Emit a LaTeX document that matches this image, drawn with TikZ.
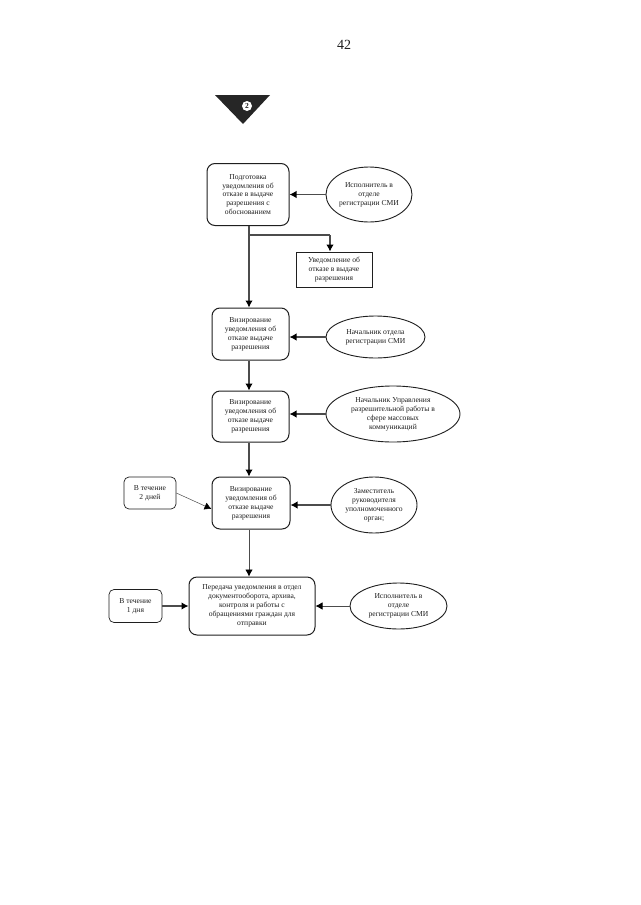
\documentclass[tikz,border=0pt]{standalone}
\usepackage{fontspec}
\setmainfont{Liberation Serif}
\usetikzlibrary{arrows.meta,shapes.geometric}
\definecolor{ink}{gray}{0.12}
\definecolor{wire}{gray}{0.3}
\tikzset{
  label font/.style={font=\fontsize{7.6}{8.9}\selectfont,text=ink,align=center,inner sep=0pt},
  flowbox/.style={label font,draw=ink,line width=1pt,rounded corners=8pt},
  smallbox/.style={label font,draw=ink,line width=0.7pt,rounded corners=5pt},
  docbox/.style={label font,draw=ink,line width=0.9pt},
  actor/.style={label font,ellipse,draw=ink,line width=0.9pt},
  wirelink/.style={draw=wire,line width=1.2pt,-{Latex[length=7pt,width=7.5pt,color=black]}},
  plainlink/.style={draw=wire,line width=1.2pt},
  thinlink/.style={draw=wire,line width=0.5pt,-{Latex[length=7pt,width=7.5pt,color=black]}},
  sizedbox/.style n args={2}{minimum width=#1pt,minimum height=#2pt}
}
\begin{document}
\begin{tikzpicture}[x=1pt,y=-1pt]
\useasboundingbox (0,0) rectangle (640,905);
\fill[white] (0,0) rectangle (640,905);

\node[font=\fontsize{14}{16}\selectfont,text=ink,inner sep=0pt] (pagenum) at (344,45) {42};

\fill[black!85] (215,95) -- (270,95) -- (243,124) -- cycle;
\node[circle,fill=white,inner sep=0pt,minimum size=10pt,font=\fontsize{7.5}{8}\selectfont\bfseries,text=ink] (connector) at (247,106) {2};

\node[flowbox,sizedbox={82}{62}] (box1) at (248,194.5) {Подготовка\\уведомления об\\отказе в выдаче\\разрешения с\\обоснованием};
\node[actor,minimum width=86pt,minimum height=55pt] (ell1) at (369,194.5) {Исполнитель в\\отделе\\регистрации СМИ};
\node[docbox,sizedbox={76}{35}] (doc) at (334,269.5) {Уведомление об\\отказе в выдаче\\разрешения};

\node[flowbox,sizedbox={77}{52}] (box2) at (250.5,334) {Визирование\\уведомления об\\отказе выдаче\\разрешения};
\node[actor,minimum width=99pt,minimum height=42pt] (ell2) at (375.5,337) {Начальник отдела\\регистрации СМИ};

\node[flowbox,sizedbox={77}{51}] (box3) at (250.5,416.5) {Визирование\\уведомления об\\отказе выдаче\\разрешения};
\node[actor,minimum width=134pt,minimum height=56pt] (ell3) at (393,414) {Начальник Управления\\разрешительной работы в\\сфере массовых\\коммуникаций};

\node[flowbox,sizedbox={78}{52}] (box4) at (251,503) {Визирование\\уведомления об\\отказе выдаче\\разрешения};
\node[actor,minimum width=86pt,minimum height=56pt] (ell4) at (374,505) {Заместитель\\руководителя\\уполномоченного\\орган;};
\node[smallbox,sizedbox={52}{32}] (term1) at (150,493) {В течение\\2 дней};

\node[flowbox,sizedbox={126}{58},align=center] (box5) at (252,606) {Передача уведомления в отдел\\документооборота, архива,\\контроля и работы с\\обращениями граждан для\\отправки};
\node[actor,minimum width=97pt,minimum height=46pt] (ell5) at (398.5,606) {Исполнитель в\\отделе\\регистрации СМИ};
\node[smallbox,sizedbox={53}{33}] (term2) at (135.5,606) {В течение\\1 дня};

\coordinate (spine) at (249,235);
\coordinate (branch) at (330,235);

\draw[wirelink] (ell1.west) -- (box1.east);
\draw[plainlink] (box1.south -| spine) -- (spine) -- (branch);
\draw[wirelink] (branch) -- (doc.north -| branch);
\draw[wirelink] (box1.south -| spine) -- (box2.north -| spine);
\draw[wirelink] (ell2.west) -- (box2.east |- ell2.west);
\draw[wirelink] (box2.south -| spine) -- (box3.north -| spine);
\draw[wirelink] (ell3.west) -- (box3.east |- ell3.west);
\draw[wirelink] (box3.south -| spine) -- (box4.north -| spine);
\draw[wirelink] (ell4.west) -- (box4.east |- ell4.west);
\draw[thinlink] (term1.east) -- (box4.west |- 0,509);
\draw[wirelink,line width=0.7pt] (box4.south -| spine) -- (box5.north -| spine);
\draw[wirelink] (term2.east) -- (box5.west);
\draw[wirelink,line width=0.7pt] (ell5.west) -- (box5.east);
\end{tikzpicture}
\end{document}
